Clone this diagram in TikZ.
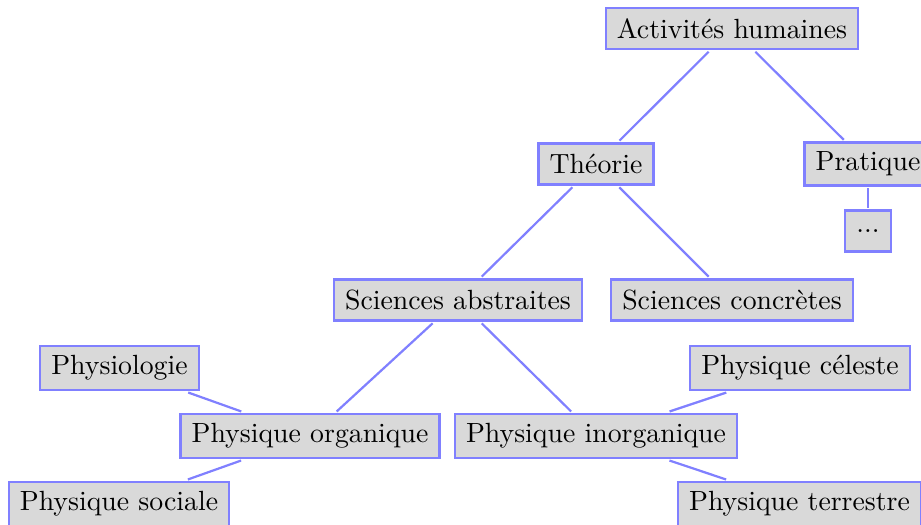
\documentclass[tikz,border=0pt]{standalone}
\begin{document}
\begin{tikzpicture}[x=0.36pt, y=-0.36pt,
  box/.style={draw=blue!50, fill=gray!30, line width=0.8pt,
    minimum height=14.8pt, inner xsep=4pt, inner ysep=3.33pt, outer sep=1pt},
  link/.style={draw=blue!50, line width=0.8pt}]
  \useasboundingbox (0,0) rectangle (921,525);
  % tree of human activities
  \node[box] (act)  at (732,28.5) {Activités humaines};
  \node[box] (theo) at (596,164)  {Théorie};
  \node[box] (prat) at (868,164)  {Pratique};
  \node[box] (dots) at (868,231)  {...};
  \node[box] (sabs) at (458,300)  {Sciences abstraites};
  \node[box] (scon) at (732,300)  {Sciences concrètes};
  \node[box] (porg) at (310,436)  {Physique organique};
  \node[box] (pinorg) at (596,436) {Physique inorganique};
  \node[box] (physio) at (119.5,368) {Physiologie};
  \node[box] (psoc) at (119,504)  {Physique sociale};
  \node[box] (pcel) at (800,368)  {Physique céleste};
  \node[box] (pterr) at (799.5,504) {Physique terrestre};
  % connectors
  \draw[link] (act) -- (theo);
  \draw[link] (act) -- (prat);
  \draw[link] (prat) -- (dots);
  \draw[link] (theo) -- (sabs);
  \draw[link] (theo) -- (scon);
  \draw[link] (sabs) -- (porg);
  \draw[link] (sabs) -- (pinorg);
  \draw[link] (porg) -- (physio);
  \draw[link] (porg) -- (psoc);
  \draw[link] (pinorg) -- (pcel);
  \draw[link] (pinorg) -- (pterr);
\end{tikzpicture}
\end{document}
